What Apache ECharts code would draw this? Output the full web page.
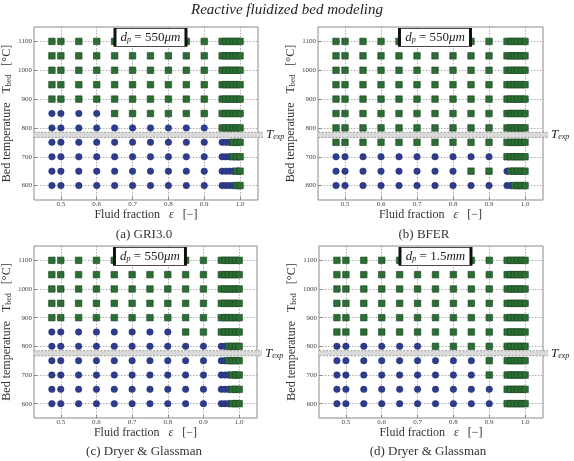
<!DOCTYPE html>
<html>
<head>
<meta charset="utf-8">
<script src="https://cdn.jsdelivr.net/npm/echarts@6/dist/echarts.min.js"></script>
<style>
  html, body { margin: 0; padding: 0; background: #fff; }
  #chart { width: 574px; height: 461px; }
</style>
</head>
<body>
<div id="chart"></div>
<script>
// sampled fluid fractions (columns) and bed temperatures (rows)
const fluidFraction = [0.475, 0.5, 0.55, 0.6, 0.65, 0.7, 0.75, 0.8, 0.85, 0.9, 0.95, 0.96, 0.97, 0.98, 0.99, 1.0];
const bedTemps = [600, 650, 700, 750, 800, 850, 900, 950, 1000, 1050, 1100];
const xTicks = [0.5, 0.6, 0.7, 0.8, 0.9, 1.0];
const yTicks = [600, 700, 800, 900, 1000, 1100];
const tExpBand = [767, 785];

// one string per bed temperature (600 -> 1100), one char per fluid fraction
// o = blue circle, s = green square
const gri30 = [
  'oooooooooo ooooss',
  'oooooooooo ooooss',
  'oooooooooo ooosss',
  'oooooooooo ooosss',
  'oooooooooo ssssss',
  'oooossssss ssssss',
  'ssssssssss ssssss',
  'ssssssssss ssssss',
  'ssssssssss ssssss',
  'ssssssssss ssssss',
  'ssssssssss ssssss'
];
const bfer = [
  'oooooooooo oossss',
  'ooooooooss osssss',
  'oooooooooo ssssss',
  'ssssssssss ssssss',
  'ssssssssss ssssss',
  'ssssssssss ssssss',
  'ssssssssss ssssss',
  'ssssssssss ssssss',
  'ssssssssss ssssss',
  'ssssssssss ssssss',
  'ssssssssss ssssss'
];
const dryer550 = [
  'oooooooooo ooosss',
  'oooooooooo ooosss',
  'oooooooooo ooosss',
  'oooooooooo oossss',
  'oooooooooo oossss',
  'ooooooooss ssssss',
  'ssssssssss ssssss',
  'ssssssssss ssssss',
  'ssssssssss ssssss',
  'ssssssssss ssssss',
  'ssssssssss ssssss'
];
const dryer1500 = [
  'oooooooooo ssssss',
  'oooooooooo ssssss',
  'ooooooooos ssssss',
  'ooooooooos ssssss',
  'oooooossss ssssss',
  'ssssssssss ssssss',
  'ssssssssss ssssss',
  'ssssssssss ssssss',
  'ssssssssss ssssss',
  'ssssssssss ssssss',
  'ssssssssss ssssss'
];

const panels = [
  { caption: '(a) GRI3.0', dp: '550', unit: 'μm', rows: gri30 },
  { caption: '(b) BFER', dp: '550', unit: 'μm', rows: bfer },
  { caption: '(c) Dryer & Glassman', dp: '550', unit: 'μm', rows: dryer550 },
  { caption: '(d) Dryer & Glassman', dp: '1.5', unit: 'mm', rows: dryer1500 }
];

// layout
const gridBoxes = [
  { left: 34, top: 27, width: 224, height: 173 },
  { left: 318, top: 27, width: 225, height: 173 },
  { left: 34, top: 246, width: 223, height: 172 },
  { left: 319, top: 246, width: 224, height: 172 }
];
const captionPos = [[144, 235], [424, 235], [144, 452], [428, 452]];

const SERIF = '"Liberation Serif", "DejaVu Serif", serif';
const BLUE = '#2f3c8e';
const GREEN = '#2b6e34';

function pointsOf(rows, kind) {
  const pts = [];
  rows.forEach((row, ri) => {
    const r = row.replace(' ', '');
    for (let ci = 0; ci < r.length; ci++) {
      if (r[ci] === kind) pts.push([fluidFraction[ci], bedTemps[ri]]);
    }
  });
  return pts;
}

const chart = echarts.init(document.getElementById('chart'), null, { renderer: 'canvas' });

const grid = [], xAxis = [], yAxis = [], series = [], graphic = [];

graphic.push({
  type: 'text', x: 287, y: 10,
  style: { text: 'Reactive fluidized bed modeling', align: 'center', verticalAlign: 'middle',
    font: 'italic 15px ' + SERIF, fill: '#222' }
});

panels.forEach((p, i) => {
  grid.push(Object.assign({ show: true, borderColor: '#8a8a8a', borderWidth: 1, backgroundColor: '#fff' }, gridBoxes[i]));

  xAxis.push({
    type: 'value', gridIndex: i, min: 0.425, max: 1.05,
    name: 'Fluid fraction   {e|ε}   [−]',
    nameLocation: 'middle', nameGap: 7,
    nameTextStyle: { fontFamily: SERIF, fontSize: 12, color: '#333',
      rich: { e: { fontFamily: SERIF, fontStyle: 'italic', fontSize: 12, color: '#333' } } },
    axisLine: { show: false },
    axisTick: { show: true, inside: true, length: 3, lineStyle: { color: '#888' }, customValues: xTicks },
    axisLabel: { fontFamily: SERIF, fontSize: 7, color: '#444', margin: 1, customValues: xTicks,
      formatter: v => v.toFixed(1) },
    splitLine: { show: true, lineStyle: { color: '#999', type: [1.5, 1.5], width: 0.8 } }
  });

  yAxis.push({
    type: 'value', gridIndex: i, min: 550, max: 1150,
    name: 'Bed temperature   {t|T}{s|bed}   [°C]',
    nameLocation: 'middle', nameGap: 21,
    nameTextStyle: { fontFamily: SERIF, fontSize: 12, color: '#333',
      rich: {
        t: { fontFamily: SERIF, fontSize: 12, color: '#333' },
        s: { fontFamily: SERIF, fontSize: 8, color: '#333', verticalAlign: 'bottom', lineHeight: 8 }
      } },
    axisLine: { show: false },
    axisTick: { show: true, inside: true, length: 3, lineStyle: { color: '#888' }, customValues: yTicks },
    axisLabel: { fontFamily: SERIF, fontSize: 7, color: '#444', margin: 2, customValues: yTicks,
      formatter: v => String(v) },
    splitLine: { show: true, lineStyle: { color: '#999', type: [1.5, 1.5], width: 0.8 } }
  });

  // T_exp band
  series.push({
    type: 'custom', xAxisIndex: i, yAxisIndex: i, clip: false, z: 1, silent: true,
    data: [[tExpBand[0], tExpBand[1]]],
    renderItem: (params, api) => {
      const a = api.coord([0.425, api.value(1)]);
      const b = api.coord([1.064, api.value(0)]);
      return {
        type: 'group',
        children: [
          { type: 'rect', shape: { x: a[0], y: a[1], width: b[0] - a[0], height: b[1] - a[1] },
            style: { fill: '#dadada', stroke: null } },
          { type: 'line', shape: { x1: a[0], y1: a[1], x2: b[0], y2: a[1] },
            style: { stroke: '#8c8c8c', lineWidth: 0.8, lineDash: [2, 1.5] } },
          { type: 'line', shape: { x1: a[0], y1: b[1], x2: b[0], y2: b[1] },
            style: { stroke: '#8c8c8c', lineWidth: 0.8, lineDash: [2, 1.5] } },
          { type: 'text', x: b[0] + 3, y: (a[1] + b[1]) / 2,
            style: { text: '{t|T}{s|exp}', verticalAlign: 'middle', align: 'left',
              rich: {
                t: { fontFamily: SERIF, fontStyle: 'italic', fontSize: 13, fill: '#222' },
                s: { fontFamily: SERIF, fontStyle: 'italic', fontSize: 8, fill: '#222', verticalAlign: 'bottom', lineHeight: 8 }
              } } }
        ]
      };
    }
  });

  series.push({
    type: 'scatter', xAxisIndex: i, yAxisIndex: i, z: 3,
    symbol: 'circle', symbolSize: 6.5,
    itemStyle: { color: BLUE, borderColor: '#1f2a6a', borderWidth: 0.5, opacity: 1 },
    data: pointsOf(p.rows, 'o')
  });

  series.push({
    type: 'scatter', xAxisIndex: i, yAxisIndex: i, z: 3,
    symbol: 'rect', symbolSize: 6.5,
    itemStyle: { color: GREEN, borderColor: '#173f1c', borderWidth: 0.6, opacity: 1 },
    data: pointsOf(p.rows, 's'),
    markPoint: {
      symbol: 'rect', symbolSize: [71, 18], silent: true,
      itemStyle: { color: '#fff', borderColor: '#111', borderWidth: 1.5 },
      label: {
        show: true, position: 'inside',
        formatter: '{i|d}{s|p}{n| = ' + p.dp + '}{i|' + p.unit + '}',
        rich: {
          i: { fontFamily: SERIF, fontStyle: 'italic', fontSize: 13, color: '#222' },
          n: { fontFamily: SERIF, fontSize: 13, color: '#222' },
          s: { fontFamily: SERIF, fontStyle: 'italic', fontSize: 8, color: '#222', verticalAlign: 'bottom', lineHeight: 8 }
        }
      },
      data: [{ coord: [0.75, 1114] }]
    }
  });

  graphic.push({
    type: 'text', x: captionPos[i][0], y: captionPos[i][1],
    style: { text: p.caption, align: 'center', verticalAlign: 'middle',
      font: '13px ' + SERIF, fill: '#333' }
  });
});

chart.setOption({
  backgroundColor: '#fff',
  animation: false,
  grid, xAxis, yAxis, series, graphic
});
</script>
</body>
</html>
